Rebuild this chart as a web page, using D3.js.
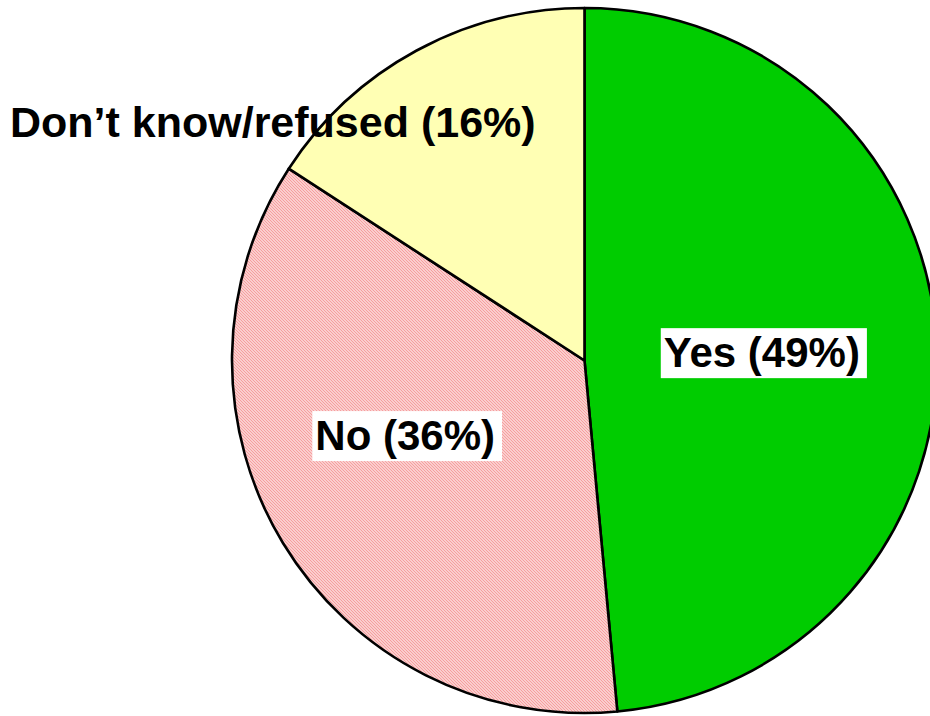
<!DOCTYPE html>
<html>
<head>
<meta charset="utf-8">
<script src="https://cdn.jsdelivr.net/npm/d3@7"></script>
<style>
  html, body { margin: 0; padding: 0; background: #ffffff; }
  svg { display: block; }
  text { font-family: "Liberation Sans", Arial, sans-serif; font-weight: bold; }
</style>
</head>
<body>
<svg id="chart" width="930" height="716"></svg>
<script>
// Survey answers, drawn clockwise from 12 o'clock
const categories = ["Yes", "No", "Don\u2019t know/refused"];
const shares = [49, 36, 16];
const labels = ["Yes (49%)", "No (36%)", "Don\u2019t know/refused (16%)"];

const width = 930, height = 716;
const cx = 584.5, cy = 360.5, radius = 352.5;

const svg = d3.select("#chart");

// Fine red diagonal hatch used for the "No" slice
const defs = svg.append("defs");
const pat = defs.append("pattern")
  .attr("id", "hatchNo")
  .attr("patternUnits", "userSpaceOnUse")
  .attr("width", 3).attr("height", 3);
pat.append("rect").attr("width", 3).attr("height", 3).attr("fill", "#ffffff");
pat.append("path")
  .attr("d", "M0,0 L3,3 M-1,2 L1,4 M2,-1 L4,1")
  .attr("stroke", "#ec3c3c")
  .attr("stroke-width", 1.3)
  .attr("shape-rendering", "crispEdges");

const fills = ["#00cc00", "url(#hatchNo)", "#ffffb4"];

const pie = d3.pie().sort(null).value(d => d.value);
const data = categories.map((c, i) => ({ name: c, value: shares[i], label: labels[i], fill: fills[i] }));
const arcs = pie(data);

const arc = d3.arc().innerRadius(0).outerRadius(radius);

const g = svg.append("g").attr("transform", `translate(${cx},${cy})`);

g.selectAll("path.slice")
  .data(arcs)
  .join("path")
  .attr("class", "slice")
  .attr("d", arc)
  .attr("fill", d => d.data.fill)
  .attr("stroke", "#000000")
  .attr("stroke-width", 2.6)
  .attr("stroke-linejoin", "round");

// Label placement: inside labels sit on a white box near the slice middle,
// the small slice gets its label out to the upper left.
const fontSize = 42;
const labelSpecs = [
  { r: 0.515, frac: 0.5,  dx: -4, dy: 0,  boxed: true },
  { r: 0.53,  frac: 0.56, dx: -8, dy: 0,  boxed: true },
  { boxed: false }
];

arcs.forEach((d, i) => {
  const spec = labelSpecs[i];
  let x, y, anchor = "middle", size = fontSize;
  if (!spec.boxed) {
    x = 10 - cx; y = 137 - cy; anchor = "start"; size = 43;
  } else {
    const a = d.startAngle + (d.endAngle - d.startAngle) * spec.frac;
    const c = d3.arc().innerRadius(radius * spec.r).outerRadius(radius * spec.r)
      .centroid({ startAngle: a, endAngle: a });
    x = c[0] + spec.dx;
    y = c[1] + spec.dy + fontSize * 0.36;
  }
  const lg = g.append("g");
  const t = lg.append("text")
    .attr("x", x).attr("y", y)
    .attr("text-anchor", anchor)
    .attr("font-size", size)
    .attr("fill", "#000000")
    .text(d.data.label);
  if (spec.boxed) {
    const bb = t.node().getBBox();
    lg.insert("rect", "text")
      .attr("x", bb.x - 3).attr("y", bb.y - 1)
      .attr("width", bb.width + 10).attr("height", bb.height + 3)
      .attr("fill", "#ffffff");
  }
});
</script>
</body>
</html>
